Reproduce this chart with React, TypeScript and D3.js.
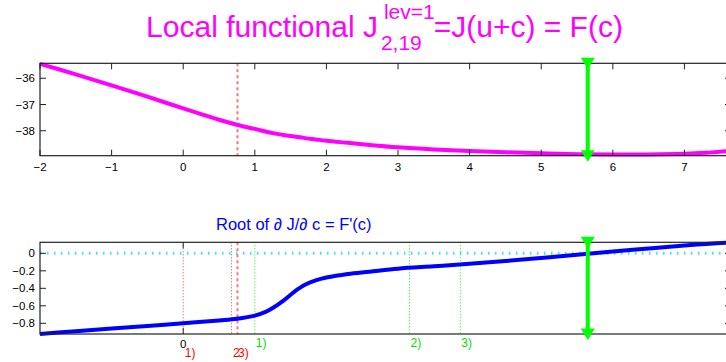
import React, { useLayoutEffect, useRef, useState } from 'react';
import * as d3 from 'd3';

// sample points of c, with F(c) and F'(c)
const cGrid = [-2, -1.5, -1, -0.5, 0, 0.5, 0.75, 1, 1.15, 1.25, 1.4, 1.55, 1.7, 1.85, 2, 2.3, 2.6, 3, 3.5, 4, 4.5, 5, 5.5, 6, 6.5, 7, 7.3, 7.65];
const fValues = [-35.45, -35.85, -36.27, -36.7, -37.15, -37.58, -37.77, -37.93, -38.03, -38.09, -38.16, -38.22, -38.28, -38.33, -38.38, -38.46, -38.54, -38.63, -38.71, -38.77, -38.82, -38.86, -38.89, -38.9, -38.9, -38.88, -38.84, -38.76];
const dfValues = [-0.922, -0.89, -0.86, -0.83, -0.8, -0.767, -0.748, -0.712, -0.67, -0.625, -0.54, -0.44, -0.36, -0.31, -0.277, -0.236, -0.21, -0.175, -0.148, -0.12, -0.088, -0.053, -0.017, 0.02, 0.055, 0.09, 0.107, 0.126];

const topXTicks = [-2, -1, 0, 1, 2, 3, 4, 5, 6, 7];
const topYTicks = [-38, -37, -36];
const botXTicks = [0];
const botYTicks = [-0.8, -0.6, -0.4, -0.2, 0];

const rootC = 5.65;
const currentC = 0.758;
const redMarks = [0, 0.675];
const redLabels = ['1)', '2', '3)'];
const redLabelC = [0, 0.675, 0.745];
const greenMarks = [1.0, 3.16, 3.87];
const greenLabels = ['1)', '2)', '3)'];

const titleParts = ['Local functional J', 'lev=1', '2,19', '=J(u+c) = F(c)'];

const fmt = (v: number) => (v < 0 ? '\u2212' : '') + String(Math.abs(v));

const FONT = 'Liberation Sans, Arial, Helvetica, sans-serif';

const x = d3.scaleLinear().domain([-2, 7.65]).range([40, 731]);
const yTop = d3.scaleLinear().domain([-38.95, -35.43]).range([155.7, 63.3]);
const yBot = d3.scaleLinear().domain([-0.922, 0.126]).range([334, 242.3]);

const Arrow = ({ cx, y0, y1 }: { cx: number; y0: number; y1: number }) => {
  const tri = (cy: number) => `M${cx - 7},${cy - 5.5}L${cx + 7},${cy - 5.5}L${cx},${cy + 6}Z`;
  return (
    <g>
      <line x1={cx} x2={cx} y1={y0} y2={y1} stroke="#00ff00" strokeWidth={4} />
      <path d={tri(y0)} fill="#00ff00" />
      <path d={tri(y1)} fill="#00ff00" />
    </g>
  );
};

const Frame = ({ y, xTicks, yTicks, fmtY, labelY }: any) => {
  const [x0, x1] = x.range();
  const [b, t] = y.range();
  return (
    <g fontFamily={FONT} fontSize={11.5}>
      <rect x={x0} y={t} width={x1 - x0} height={b - t} fill="none" stroke="#222" strokeWidth={1.2} />
      {xTicks.map((v: number) => (
        <g key={'x' + v}>
          <line x1={x(v)} x2={x(v)} y1={b} y2={b - 6} stroke="#222" />
          <line x1={x(v)} x2={x(v)} y1={t} y2={t + 6} stroke="#222" />
          <text x={x(v)} y={labelY} textAnchor="middle">{fmt(v)}</text>
        </g>
      ))}
      {yTicks.map((v: number) => (
        <g key={'y' + v}>
          <line x1={x0} x2={x0 + 6} y1={y(v)} y2={y(v)} stroke="#222" />
          <line x1={x1} x2={x1 - 6} y1={y(v)} y2={y(v)} stroke="#222" />
          <text x={35} y={y(v)} dy="0.36em" textAnchor="end">{fmtY(v)}</text>
        </g>
      ))}
    </g>
  );
};

// title with TeX-like super/subscript, laid out after measuring
const Title = () => {
  const refs = [useRef<SVGTextElement>(null), useRef<SVGTextElement>(null), useRef<SVGTextElement>(null), useRef<SVGTextElement>(null)];
  const [xs, setXs] = useState([147, 381, 378, 430]);
  useLayoutEffect(() => {
    const w = refs.map(r => (r.current ? r.current.getComputedTextLength() : 0));
    const supX = w[0] + 6;
    const subX = w[0] + 3;
    const restX = Math.max(supX + w[1], subX + w[2]) - 1;
    const total = restX + w[3];
    const x0 = 384.5 - total / 2;
    setXs([x0, x0 + supX, x0 + subX, x0 + restX]);
  }, []);
  return (
    <g fontFamily={FONT} fill="#ff00ff">
      <text ref={refs[0]} x={xs[0]} y={37} fontSize={30}>{titleParts[0]}</text>
      <text ref={refs[1]} x={xs[1]} y={19} fontSize={21}>{titleParts[1]}</text>
      <text ref={refs[2]} x={xs[2]} y={50} fontSize={21}>{titleParts[2]}</text>
      <text ref={refs[3]} x={xs[3]} y={37} fontSize={30}>{titleParts[3]}</text>
    </g>
  );
};

export default function App() {
  const lineTop = d3.line<number>().x((_, i) => x(cGrid[i])).y(d => yTop(d)).curve(d3.curveCatmullRom);
  const lineBot = d3.line<number>().x((_, i) => x(cGrid[i])).y(d => yBot(d)).curve(d3.curveCatmullRom);
  const t1 = yTop.range()[1];
  const b1 = yTop.range()[0];
  const t2 = yBot.range()[1];
  const b2 = yBot.range()[0];

  return (
    <svg width={726} height={362} style={{ position: 'absolute', left: 0, top: 0, background: '#fff' }}>
      <Title />

      {/* top plot */}
      <line x1={x(currentC)} x2={x(currentC)} y1={t1} y2={b1} stroke="#ff0000" strokeOpacity={0.55} strokeWidth={2} strokeDasharray="3,3" />
      <path d={lineTop(fValues) || ''} fill="none" stroke="#ff00ff" strokeWidth={4} />
      <Frame y={yTop} xTicks={topXTicks} yTicks={topYTicks} fmtY={fmt} labelY={171} />
      <Arrow cx={x(rootC)} y0={t1} y1={b1} />

      {/* bottom plot */}
      <text x={216} y={230} fontFamily={FONT} fontSize={16.5} fill="#0000ff">Root of ∂ J/∂ c = F'(c)</text>
      <line x1={x.range()[0]} x2={x.range()[1]} y1={yBot(0)} y2={yBot(0)} stroke="#3de3f7" strokeWidth={3} strokeDasharray="1.5,5.5" />
      {redMarks.map(c => (
        <line key={'r' + c} x1={x(c)} x2={x(c)} y1={t2} y2={b2} stroke="#ff0000" strokeOpacity={0.8} strokeDasharray="1,2" />
      ))}
      <line x1={x(currentC)} x2={x(currentC)} y1={t2} y2={b2} stroke="#ff0000" strokeOpacity={0.55} strokeWidth={2} strokeDasharray="3,3" />
      {greenMarks.map(c => (
        <line key={'g' + c} x1={x(c)} x2={x(c)} y1={t2} y2={b2} stroke="#00ff00" strokeDasharray="1,2" />
      ))}
      <path d={lineBot(dfValues) || ''} fill="none" stroke="#0000ff" strokeWidth={4} />
      <Frame y={yBot} xTicks={botXTicks} yTicks={botYTicks} fmtY={(v: number) => (v === 0 ? '0' : fmt(v))} labelY={348} />
      <g fontFamily={FONT} fontSize={12}>
        {redLabels.map((s, i) => (
          <text key={'rl' + i} x={x(redLabelC[i]) + 1.5} y={357} fill="#ff0000">{s}</text>
        ))}
        {greenLabels.map((s, i) => (
          <text key={'gl' + i} x={x(greenMarks[i]) + 1} y={347} fill="#00dd00">{s}</text>
        ))}
      </g>
      <Arrow cx={x(rootC)} y0={t2} y1={b2} />
    </svg>
  );
}
